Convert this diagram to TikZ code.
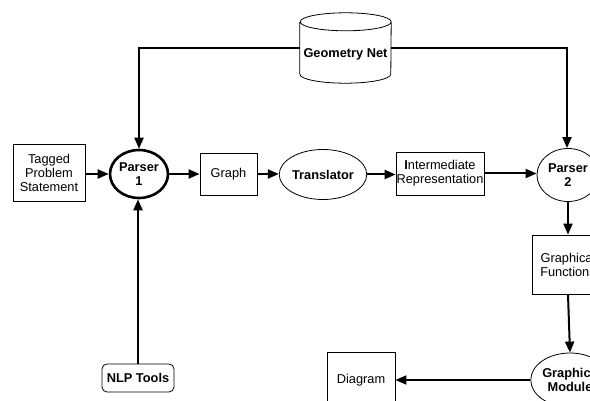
\documentclass[tikz,border=0pt]{standalone}
\usepackage{fontspec}
\setmainfont{Liberation Sans}
\usetikzlibrary{arrows.meta,shapes.geometric}

\begin{document}
\begin{tikzpicture}[x=1pt,y=-1pt,
  txt/.style={font=\fontsize{12.8}{14}\selectfont},
  btxt/.style={font=\bfseries\fontsize{12.8}{14}\selectfont},
  box/.style={draw, line width=0.8pt, align=center, inner sep=0, txt},
  proc/.style={draw, ellipse, line width=0.8pt, align=center, inner sep=0, btxt},
  flow/.style={line width=2pt, -{Triangle[length=11pt,width=9pt]}}]
\useasboundingbox (0,0) rectangle (590,401);
\clip (0,0) rectangle (590,401);

% main row
\node[box, minimum width=72pt, minimum height=57pt] (tps) at (49,173) {Tagged\\Problem\\Statement};
\node[proc, line width=2.6pt, minimum width=58pt, minimum height=48pt] (p1) at (139,174) {Parser\\1};
\node[box, minimum width=57pt, minimum height=42pt] (graph) at (228.5,174) {Graph};
\node[proc, minimum width=72pt, minimum height=50pt] (tr) at (323,174.5) {Translator};
\node[box, minimum width=88pt, minimum height=43pt] (ir) at (440,173.5) {\textbf{I}ntermediate\\Representation};
\node[proc, minimum width=62pt, minimum height=53pt] (p2) at (568,175) {Parser\\2};

% knowledge base (cylinder)
\node[minimum width=91pt, minimum height=70pt, inner sep=0] (gnet) at (345.5,48) {};
\draw[line width=0.8pt]
  ([yshift=-9pt]gnet.north west) -- ([yshift=9pt]gnet.south west)
  arc[start angle=180, end angle=360, x radius=45.5pt, y radius=9pt]
  -- ([yshift=-9pt]gnet.north east)
  arc[start angle=0, end angle=180, x radius=45.5pt, y radius=9pt]
  arc[start angle=180, end angle=360, x radius=45.5pt, y radius=9pt];
\node[btxt] (gnettext) at (345.5,54) {Geometry Net};

% lower part
\node[draw, rounded corners=5pt, line width=0.8pt, inner sep=0, minimum width=72pt, minimum height=28pt, btxt] (nlp) at (138,378) {NLP Tools};
\node[box, minimum width=72pt, minimum height=59pt] (gf) at (568,264.5) {Graphical\\Functions};
\node[proc, minimum width=68pt, minimum height=54pt] (gm) at (570,380) {Graphics\\Module};
\node[box, minimum width=68pt, minimum height=56pt] (diag) at (361,380) {Diagram};

% connectors
\draw[flow] (tps.east |- p1.west) -- (p1.west);
\draw[flow] (p1.east) -- (graph.west);
\draw[flow] (graph.east) -- (graph.east -| tr.west);
\draw[flow] (tr.east) -- (tr.east -| ir.west);
\draw[flow] (ir.east) -- (ir.east -| p2.west);
\draw[flow] (gnet.west) -| (p1.north);
\draw[flow] (gnet.east) -| ([xshift=-1pt]p2.north);
\draw[flow] (nlp.north) -- (nlp.north |- p1.south);
\draw[flow] (p2.south) -- (gf.north);
\draw[flow] (gf.south) -- (gm.north);
\draw[flow] (gm.west) -- (diag.east);
\end{tikzpicture}
\end{document}
